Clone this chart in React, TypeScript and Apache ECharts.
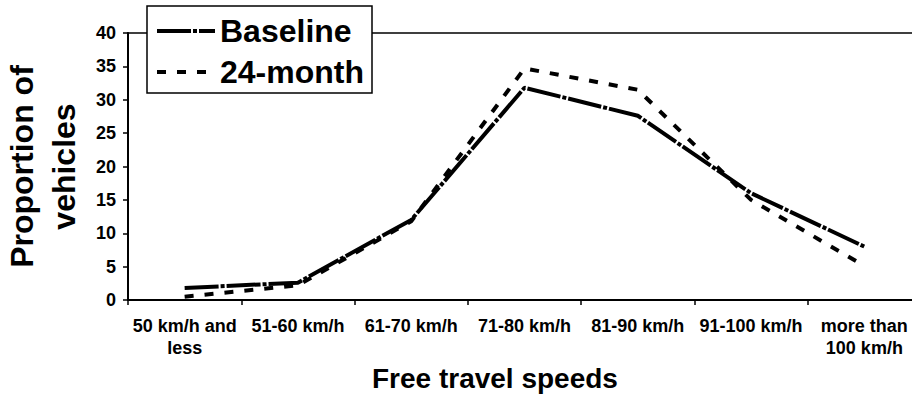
import React, { useEffect, useRef } from "react";
import * as echarts from "echarts";

const categories = [
  "50 km/h and\nless",
  "51-60 km/h",
  "61-70 km/h",
  "71-80 km/h",
  "81-90 km/h",
  "91-100 km/h",
  "more than\n100 km/h",
];
const baseline = [1.8, 2.6, 12.0, 31.8, 27.6, 16.0, 8.0];
const month24 = [0.5, 2.2, 11.8, 34.7, 31.5, 15.0, 5.1];
const seriesNames = ["Baseline", "24-month"];
const yTicks = { min: 0, max: 40, interval: 5 };

const FONT = "'Liberation Sans', Arial, Helvetica, sans-serif";

export default function App() {
  const ref = useRef<HTMLDivElement>(null);
  useEffect(() => {
    if (!ref.current) return;
    const chart = echarts.init(ref.current, null, { renderer: "svg" });
    chart.setOption({
      animation: false,
      backgroundColor: "#fff",
      color: ["#000", "#000"],
      textStyle: { fontFamily: FONT, color: "#000" },
      title: {
        text: "Free travel speeds",
        left: 372,
        top: 364,
        padding: 0,
        textStyle: { fontFamily: FONT, fontSize: 28, fontWeight: "bold", color: "#000" },
      },
      grid: {
        left: 128,
        top: 33,
        right: -9,
        bottom: 110,
        containLabel: false,
        outerBoundsMode: "none",
        show: true,
        borderColor: "#000",
        borderWidth: 1.5,
      },
      legend: {
        data: seriesNames,
        orient: "vertical",
        left: 147,
        top: 6,
        padding: [9, 8, 5, 8],
        itemWidth: 58,
        itemHeight: 32,
        itemGap: 9,
        backgroundColor: "#fff",
        borderColor: "#000",
        borderWidth: 1.5,
        borderRadius: 0,
        itemStyle: { opacity: 0, borderWidth: 0 },
        lineStyle: { width: 4 },
        textStyle: { fontFamily: FONT, fontSize: 32, fontWeight: "bold", color: "#000" },
      },
      xAxis: {
        type: "category",
        data: categories,
        boundaryGap: true,
        axisLine: { show: true, lineStyle: { color: "#000", width: 2 } },
        axisTick: { show: true, length: 5, lineStyle: { color: "#000", width: 1.5 } },
        axisLabel: {
          interval: 0,
          margin: 15,
          fontFamily: FONT,
          fontSize: 18,
          fontWeight: "bold",
          color: "#000",
          lineHeight: 22,
        },
        splitLine: { show: false },
      },
      yAxis: {
        type: "value",
        min: yTicks.min,
        max: yTicks.max,
        interval: yTicks.interval,
        name: "Proportion of\nvehicles",
        nameLocation: "middle",
        nameRotate: 90,
        nameGap: 40,
        nameTextStyle: { fontFamily: FONT, fontSize: 32, fontWeight: "bold", color: "#000", lineHeight: 42 },
        axisLine: { show: true, lineStyle: { color: "#000", width: 2 } },
        axisTick: { show: true, length: 5, lineStyle: { color: "#000", width: 1.5 } },
        axisLabel: { margin: 12, fontFamily: FONT, fontSize: 18, fontWeight: "bold", color: "#000" },
        splitLine: { show: false },
      },
      series: [
        {
          name: seriesNames[0],
          type: "line",
          data: baseline,
          symbol: "none",
          itemStyle: { color: "#000" },
          lineStyle: { color: "#000", width: 4, type: [34, 2, 4, 2] },
          z: 3,
        },
        {
          name: seriesNames[1],
          type: "line",
          data: month24,
          symbol: "none",
          itemStyle: { color: "#000" },
          lineStyle: { color: "#000", width: 4, type: [9, 11] },
          z: 2,
        },
      ],
    });
    return () => chart.dispose();
  }, []);
  return (
    <div
      ref={ref}
      style={{ position: "fixed", left: 0, top: 0, width: 912, height: 410 }}
    />
  );
}
